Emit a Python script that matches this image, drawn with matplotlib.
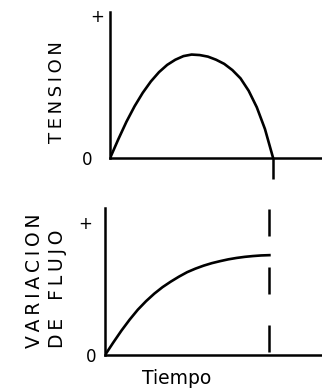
import matplotlib

matplotlib.use("Agg")

import matplotlib.pyplot as plt

# time in units of the pulse length (half period of the tension)
time_steps = [0.0, 0.05, 0.1, 0.15, 0.2, 0.25, 0.3, 0.35, 0.4, 0.45, 0.5,
              0.55, 0.6, 0.65, 0.7, 0.75, 0.8, 0.85, 0.9, 0.95, 1.0]

# tension, one half wave (slightly lopsided)
tension_v = [0.0, 0.18, 0.35, 0.50, 0.63, 0.74, 0.83, 0.90, 0.95, 0.985, 1.0,
             0.995, 0.98, 0.95, 0.91, 0.85, 0.77, 0.65, 0.49, 0.28, 0.0]

# flux change, rises and flattens out at the end of the pulse
flux_v = [0.0, 0.125, 0.245, 0.355, 0.455, 0.54, 0.615, 0.68, 0.735, 0.785, 0.83,
          0.865, 0.895, 0.92, 0.94, 0.958, 0.972, 0.983, 0.991, 0.997, 1.0]

tick_labels = ["0", "+"]
pulse_end = 1.0

fig = plt.figure(figsize=(3.22, 3.92), dpi=100)
plt.rcParams["font.family"] = ["DejaVu Sans"]

THIN = "\u2009"


def spaced(word):
    return THIN.join(word)


def style_axes(ax, top, pads):
    for side in ("top", "right"):
        ax.spines[side].set_visible(False)
    for side in ("left", "bottom"):
        ax.spines[side].set_linewidth(1.8)
    ax.set_yticks([0, top])
    ax.set_yticklabels(tick_labels, fontsize=12)
    ax.tick_params(axis="y", length=0)
    for tick, pad in zip(ax.yaxis.get_major_ticks(), pads):
        tick.set_pad(pad)


# upper panel: tension
ax1 = fig.add_axes([0.342, 0.597, 0.658, 0.372])
ax1.plot(time_steps, tension_v, color="black", lw=1.9)
ax1.set_xlim(0, 1.30)
ax1.set_ylim(0, 1.41)
style_axes(ax1, 1.38, (13, 4))
ax1.set_xticks([pulse_end])
ax1.set_xticklabels([""])
ax1.tick_params(axis="x", direction="out", length=15, width=1.8, pad=0)
fig.text(0.178, 0.765, spaced("TENSION"), rotation=90, fontsize=13,
         ha="center", va="center")

# lower panel: flux change
ax2 = fig.add_axes([0.326, 0.094, 0.674, 0.375])
ax2.plot(time_steps, flux_v, color="black", lw=1.9)
ax2.axvline(pulse_end, ymin=0.02, ymax=1.0, color="black", lw=1.8, dashes=(10.8, 12.4))
ax2.set_xlim(0, 1.32)
ax2.set_ylim(0, 1.47)
style_axes(ax2, 1.33, (6, 9))
ax2.set_xticks([])
ax2.set_xlabel("Tiempo", fontsize=13.5, labelpad=10, x=0.33)
fig.text(0.108, 0.112, spaced("VARIACION"), rotation=90, fontsize=13.5,
         ha="center", va="bottom")
fig.text(0.180, 0.112, spaced("DE") + "   " + spaced("FLUJO"), rotation=90,
         fontsize=13.5, ha="center", va="bottom")

fig.savefig("out.png", dpi=100)
